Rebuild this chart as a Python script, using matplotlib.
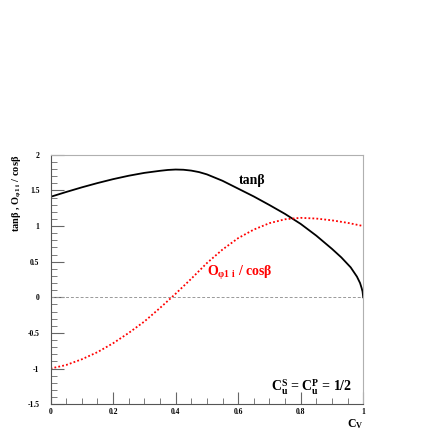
import numpy as np
import matplotlib.pyplot as plt
from matplotlib.ticker import MultipleLocator

plt.rcParams['font.family'] = 'Liberation Serif'
plt.rcParams['font.weight'] = 'bold'
plt.rcParams['mathtext.fontset'] = 'custom'
plt.rcParams['mathtext.rm'] = 'Liberation Serif:bold'
plt.rcParams['mathtext.it'] = 'Liberation Serif:bold'
plt.rcParams['mathtext.bf'] = 'Liberation Serif:bold'

# tan(beta) vs C_V
cv_tan = [0, 0.05, 0.1, 0.15, 0.2, 0.25, 0.3, 0.35, 0.375, 0.4, 0.425, 0.45, 0.475, 0.5,
          0.55, 0.6, 0.65, 0.7, 0.75, 0.8, 0.85, 0.9, 0.93, 0.96, 0.98, 0.99, 0.995,
          0.998, 1.0]
tanb = [1.41, 1.478, 1.543, 1.603, 1.658, 1.706, 1.746, 1.775, 1.787, 1.793, 1.79, 1.778,
        1.757, 1.725, 1.635, 1.525, 1.415, 1.295, 1.17, 1.03, 0.865, 0.68, 0.56, 0.42,
        0.29, 0.20, 0.13, 0.08, 0.0]

# O_phi1i / cos(beta) vs C_V
cv_o = [0, 0.05, 0.1, 0.15, 0.2, 0.25, 0.3, 0.35, 0.4, 0.45, 0.5,
        0.55, 0.6, 0.65, 0.7, 0.75, 0.8, 0.85, 0.9, 0.95, 1.0]
o_cos = [-1.0, -0.95, -0.87, -0.77, -0.645, -0.50, -0.34, -0.15, 0.05, 0.26, 0.48,
         0.67, 0.83, 0.95, 1.04, 1.095, 1.115, 1.105, 1.08, 1.045, 1.0]

fig = plt.figure(figsize=(4.36, 4.36), dpi=100)
ax = fig.add_axes([0.116, 0.073, 0.717, 0.572])

ax.axhline(0, color='#999999', lw=0.7, ls=(0, (3, 2)))
ax.plot(cv_tan, tanb, color='black', lw=1.3)
ax.plot(cv_o, o_cos, color='red', lw=1.3, ls=(0, (1, 1.2)))

ax.set_xlim(0, 1)
ax.set_ylim(-1.5, 2)
ax.xaxis.set_major_locator(MultipleLocator(0.2))
ax.xaxis.set_minor_locator(MultipleLocator(0.05))
ax.yaxis.set_major_locator(MultipleLocator(0.5))
ax.yaxis.set_minor_locator(MultipleLocator(0.1))
ax.xaxis.set_major_formatter(plt.FuncFormatter(lambda v, p: '%g' % round(v, 2)))
ax.yaxis.set_major_formatter(plt.FuncFormatter(lambda v, p: '%g' % round(v, 2)))
ax.tick_params(which='both', direction='in', labelsize=5.5, top=False, right=False,
               color='#666666')
ax.tick_params(which='major', length=9, width=0.8)
ax.tick_params(which='minor', length=4.5, width=0.6)
ax.tick_params(axis='x', pad=2.5)
ax.tick_params(axis='y', pad=8)

ax.spines['left'].set_color('#555555')
ax.spines['bottom'].set_color('#555555')
ax.spines['top'].set_color('#b0b0b0')
ax.spines['right'].set_color('#b0b0b0')

ax.text(0.645, 1.64, 'tanβ', fontsize=10, ha='center', va='center')
ax.text(0.50, 0.34, r'$\mathrm{O}_{\mathrm{φ1\ i}}$ / cosβ', fontsize=10, color='red',
        ha='left', va='center')
ax.text(0.965, -1.26, r'$\mathrm{C}_\mathrm{u}^\mathrm{S}$ = $\mathrm{C}_\mathrm{u}^\mathrm{P}$ = 1/2',
        fontsize=10, ha='right', va='center')

fig.text(0.833, 0.044, r'$\mathrm{C}_\mathrm{V}$', fontsize=8.5, ha='right', va='top')
fig.text(0.04, 0.645, r'tanβ , $\mathrm{O}_{\mathrm{φ1\ i}}$ / cosβ', fontsize=7.5,
         rotation=90, ha='center', va='top')

fig.savefig('out.png', dpi=100)
